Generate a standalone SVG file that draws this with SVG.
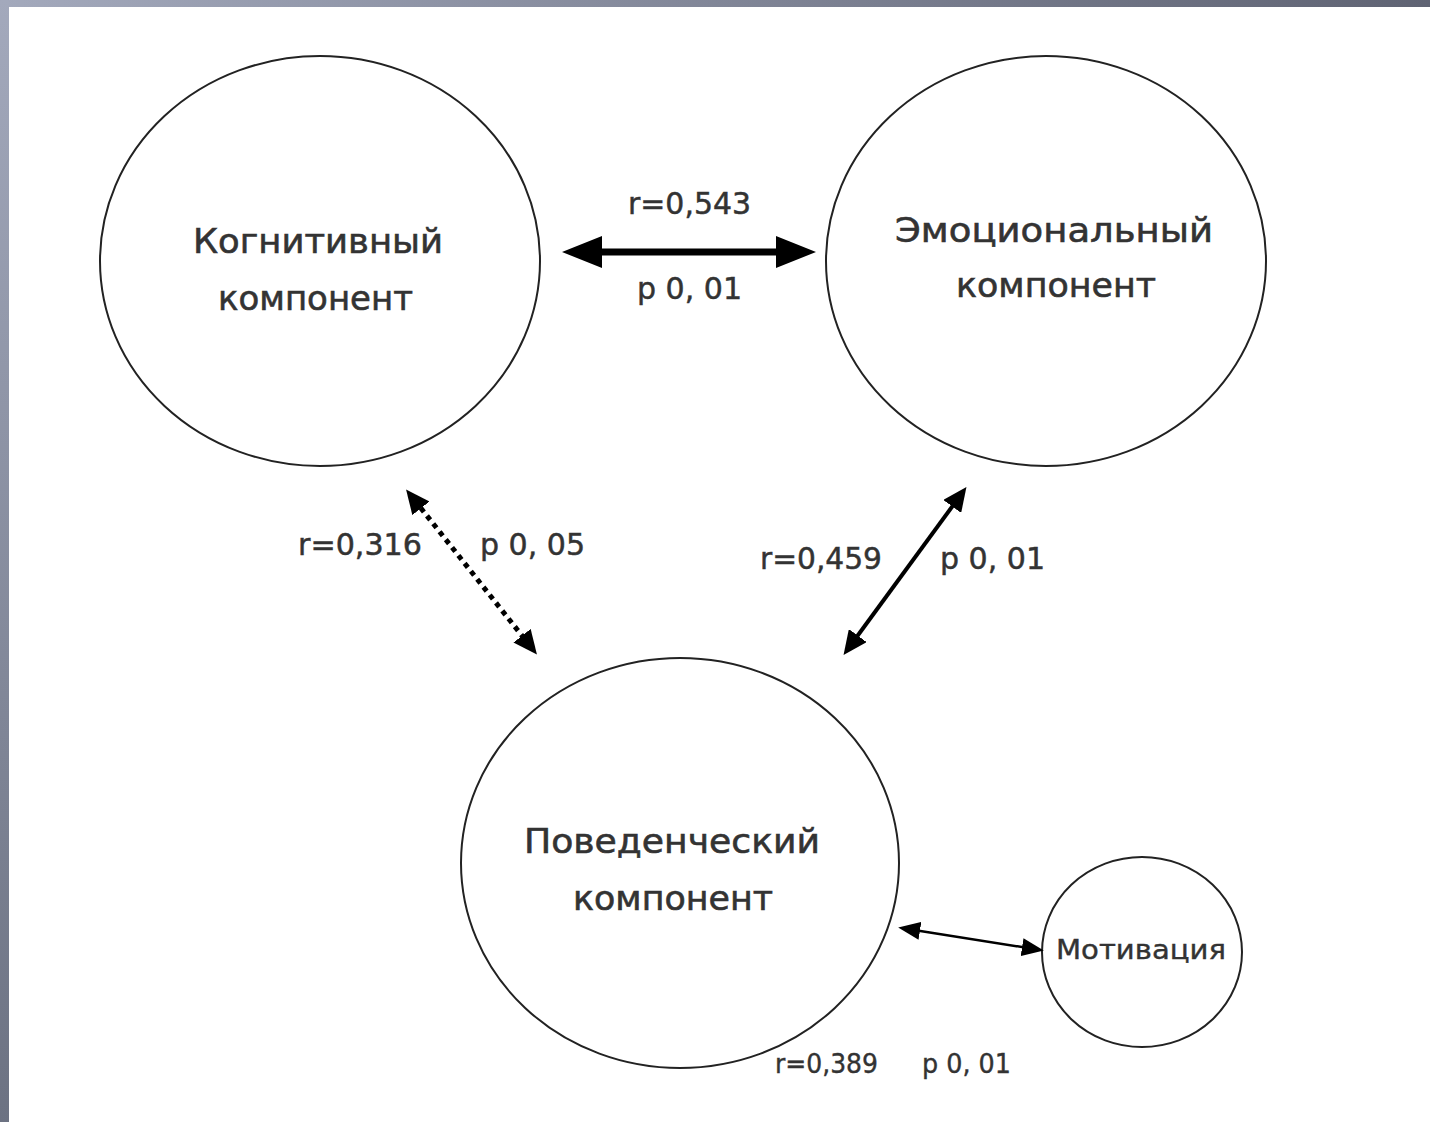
<svg xmlns="http://www.w3.org/2000/svg" width="1430" height="1122" viewBox="0 0 1430 1122">
<defs>
<linearGradient id="gl" x1="0" y1="0" x2="0" y2="1"><stop offset="0" stop-color="#a3a9bc"/><stop offset="1" stop-color="#6c7282"/></linearGradient>
<linearGradient id="gt" x1="0" y1="0" x2="1" y2="0"><stop offset="0" stop-color="#a3a9bc"/><stop offset="1" stop-color="#5f6373"/></linearGradient>
<marker id="ahBig" viewBox="0 0 40 32" markerWidth="40" markerHeight="32" refX="18" refY="16" orient="auto-start-reverse" markerUnits="userSpaceOnUse"><path d="M0,0 L40,16 L0,32 Z" fill="#000"/></marker>
<marker id="ahMid" viewBox="0 0 24 22" markerWidth="24" markerHeight="22" refX="8" refY="11" orient="auto-start-reverse" markerUnits="userSpaceOnUse"><path d="M0,0 L24,11 L0,22 Z" fill="#000"/></marker>
<marker id="ahSm" viewBox="0 0 22 18" markerWidth="22" markerHeight="18" refX="6" refY="9" orient="auto-start-reverse" markerUnits="userSpaceOnUse"><path d="M0,0 L22,9 L0,18 Z" fill="#000"/></marker>
</defs>
<style>
.node{fill:#fff;stroke:#222;stroke-width:2}
.lbl{font-family:"DejaVu Sans","Liberation Sans",sans-serif;fill:#333;stroke:#333;stroke-width:0.6;font-size:34px}
.num{font-family:"DejaVu Sans","Liberation Sans",sans-serif;fill:#333;stroke:#333;stroke-width:0.5;font-size:31px}
.sm{font-family:"DejaVu Sans","Liberation Sans",sans-serif;fill:#333;stroke:#333;stroke-width:0.4;font-size:27px}
</style>
<rect width="1430" height="1122" fill="#fff"/>
<rect x="0" y="0" width="1430" height="7" fill="url(#gt)"/>
<rect x="0" y="0" width="9" height="1122" fill="url(#gl)"/>

<g id="node-cognitive">
<ellipse class="node" cx="320" cy="261" rx="220" ry="205"/>
<text class="lbl" x="193" y="253" textLength="250" lengthAdjust="spacingAndGlyphs">Когнитивный</text>
<text class="lbl" x="218" y="310" textLength="195" lengthAdjust="spacingAndGlyphs">компонент</text>
</g>
<g id="node-emotional">
<ellipse class="node" cx="1046" cy="261" rx="220" ry="205"/>
<text class="lbl" x="895" y="242" textLength="318" lengthAdjust="spacingAndGlyphs">Эмоциональный</text>
<text class="lbl" x="956" y="297" textLength="200" lengthAdjust="spacingAndGlyphs">компонент</text>
</g>
<g id="node-behavioral">
<ellipse class="node" cx="680" cy="863" rx="219" ry="205"/>
<text class="lbl" x="524" y="853" textLength="296" lengthAdjust="spacingAndGlyphs">Поведенческий</text>
<text class="lbl" x="573" y="910" textLength="200" lengthAdjust="spacingAndGlyphs">компонент</text>
</g>
<g id="node-motivation">
<ellipse class="node" cx="1142" cy="952" rx="100" ry="95"/>
<text class="sm" x="1056" y="959" font-size="25" textLength="170" lengthAdjust="spacingAndGlyphs">Мотивация</text>
</g>

<g id="connectors" stroke="#000" fill="none">
<line x1="584" y1="252" x2="794" y2="252" stroke-width="7" marker-start="url(#ahBig)" marker-end="url(#ahBig)"/>
<line x1="416" y1="502" x2="527" y2="642" stroke-width="5" stroke-dasharray="0.1 10" stroke-linecap="square" marker-start="url(#ahMid)" marker-end="url(#ahMid)"/>
<line x1="957" y1="500" x2="853" y2="642" stroke-width="4" marker-start="url(#ahMid)" marker-end="url(#ahMid)"/>
<line x1="914" y1="930" x2="1028" y2="948" stroke-width="2.5" marker-start="url(#ahSm)" marker-end="url(#ahSm)"/>
</g>

<g id="labels">
<text class="num" x="628" y="214" textLength="123" lengthAdjust="spacingAndGlyphs">r=0,543</text>
<text class="num" x="637" y="299" textLength="105" lengthAdjust="spacingAndGlyphs">p 0, 01</text>
<text class="num" x="298" y="555" textLength="124" lengthAdjust="spacingAndGlyphs">r=0,316</text>
<text class="num" x="480" y="555" textLength="105" lengthAdjust="spacingAndGlyphs">p 0, 05</text>
<text class="num" x="760" y="569" textLength="122" lengthAdjust="spacingAndGlyphs">r=0,459</text>
<text class="num" x="940" y="569" textLength="105" lengthAdjust="spacingAndGlyphs">p 0, 01</text>
<text class="sm" x="775" y="1073" textLength="103" lengthAdjust="spacingAndGlyphs">r=0,389</text>
<text class="sm" x="922" y="1073" textLength="89" lengthAdjust="spacingAndGlyphs">p 0, 01</text>
</g>
</svg>
